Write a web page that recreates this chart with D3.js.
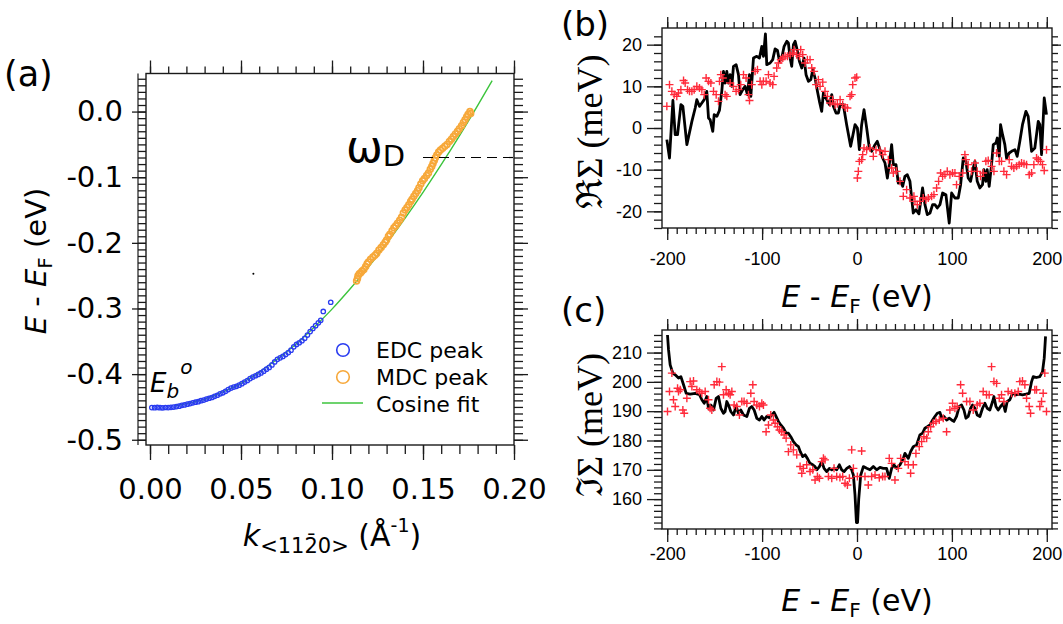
<!DOCTYPE html>
<html>
<head>
<meta charset="utf-8">
<script src="https://cdn.jsdelivr.net/npm/d3@7"></script>
<style>
  body { margin: 0; background: #fff; }
  svg { display: block; }
</style>
</head>
<body>
<div id="chart"></div>
<script>
// ---------- Dados painel (a) : [k (1/Å), E - EF (eV)] ----------
const edcPeak = [
  [0.0010,-0.4510],[0.0025,-0.4512],[0.0040,-0.4508],[0.0055,-0.4511],[0.0070,-0.4513],[0.0085,-0.4509],
  [0.0100,-0.4510],[0.0115,-0.4506],[0.0130,-0.4502],[0.0145,-0.4495],[0.0160,-0.4488],[0.0175,-0.4476],
  [0.0190,-0.4470],[0.0205,-0.4458],[0.0220,-0.4449],[0.0235,-0.4438],[0.0250,-0.4428],[0.0265,-0.4420],
  [0.0280,-0.4405],[0.0295,-0.4396],[0.0310,-0.4380],[0.0325,-0.4368],[0.0340,-0.4356],[0.0355,-0.4338],
  [0.0370,-0.4322],[0.0385,-0.4300],[0.0400,-0.4285],[0.0415,-0.4262],[0.0430,-0.4235],[0.0445,-0.4212],
  [0.0460,-0.4198],[0.0475,-0.4186],[0.0490,-0.4168],[0.0505,-0.4145],[0.0520,-0.4121],[0.0535,-0.4097],
  [0.0550,-0.4068],[0.0565,-0.4045],[0.0580,-0.4025],[0.0595,-0.4004],[0.0610,-0.3982],[0.0625,-0.3955],
  [0.0640,-0.3925],[0.0655,-0.3898],[0.0670,-0.3860],[0.0685,-0.3815],[0.0700,-0.3775],[0.0715,-0.3752],
  [0.0730,-0.3730],[0.0745,-0.3702],[0.0760,-0.3672],[0.0775,-0.3635],[0.0790,-0.3585],[0.0805,-0.3548],
  [0.0820,-0.3522],[0.0835,-0.3492],[0.0850,-0.3455],[0.0865,-0.3405],[0.0880,-0.3352],[0.0895,-0.3305],
  [0.0910,-0.3262],[0.0925,-0.3218],[0.0938,-0.3180],[0.0952,-0.3045],[0.0993,-0.2905]
];
const mdcPeak = [
  [0.1135,-0.2580],[0.1140,-0.2545],[0.1143,-0.2500],[0.1150,-0.2470],[0.1158,-0.2455],[0.1165,-0.2430],
  [0.1175,-0.2405],[0.1185,-0.2360],[0.1193,-0.2320],[0.1200,-0.2290],[0.1212,-0.2250],[0.1225,-0.2215],
  [0.1236,-0.2190],[0.1246,-0.2160],[0.1258,-0.2110],[0.1270,-0.2070],[0.1282,-0.2030],[0.1292,-0.1990],
  [0.1300,-0.1955],[0.1310,-0.1900],[0.1318,-0.1870],[0.1330,-0.1815],[0.1340,-0.1770],[0.1350,-0.1740],
  [0.1360,-0.1700],[0.1372,-0.1655],[0.1382,-0.1610],[0.1392,-0.1545],[0.1402,-0.1500],[0.1412,-0.1460],
  [0.1422,-0.1420],[0.1432,-0.1370],[0.1440,-0.1335],[0.1450,-0.1290],[0.1460,-0.1250],[0.1470,-0.1205],
  [0.1478,-0.1160],[0.1488,-0.1105],[0.1498,-0.1055],[0.1508,-0.1020],[0.1520,-0.0975],[0.1530,-0.0935],
  [0.1540,-0.0880],[0.1548,-0.0835],[0.1555,-0.0790],[0.1562,-0.0745],[0.1568,-0.0705],[0.1576,-0.0660],
  [0.1586,-0.0615],[0.1596,-0.0585],[0.1608,-0.0560],[0.1620,-0.0530],[0.1632,-0.0500],[0.1645,-0.0455],
  [0.1656,-0.0420],[0.1667,-0.0380],[0.1678,-0.0340],[0.1690,-0.0300],[0.1700,-0.0260],[0.1712,-0.0215],
  [0.1722,-0.0165],[0.1731,-0.0125],[0.1740,-0.0080],[0.1748,-0.0040],[0.1758,0.0000],[0.1762,-0.0030]
];
const cosineFit = [
  [0.014,-0.448],[0.020,-0.445],[0.030,-0.438],[0.040,-0.427],[0.050,-0.414],[0.060,-0.397],
  [0.070,-0.377],[0.080,-0.355],[0.090,-0.329],[0.100,-0.301],[0.110,-0.270],[0.120,-0.237],
  [0.130,-0.201],[0.140,-0.163],[0.150,-0.123],[0.160,-0.081],[0.170,-0.037],[0.180,0.009],[0.188,0.047]
];
const strayDot = [[0.0568,-0.247]];
const omegaD = { E: -0.07, kStart: 0.150, kEnd: 0.200 };
const aXTicks = [0.00, 0.05, 0.10, 0.15, 0.20];
const aYTicks = [-0.5, -0.4, -0.3, -0.2, -0.1, 0.0];
const legendA = [
  { label: "EDC peak", type: "circle", color: "#2a3cf0" },
  { label: "MDC peak", type: "circle", color: "#f7a83a" },
  { label: "Cosine fit", type: "line", color: "#3cc43c" }
];

// ---------- Dados painel (b) : [E - EF (meV), Re Sigma (meV)] ----------
const reSigmaLine = [
  [-200.4,-2.8],[-197.6,-7.2],[-194,6.6],[-191.6,-1.6],[-189.1,-1.6],[-185.6,5.6],[-183.5,5.2],[-179.3,-4.0],
  [-174,1.6],[-170.5,4.8],[-168.8,6.8],[-166,5.2],[-163.5,6.0],[-161,6.8],[-158.3,8.8],[-156.5,2.4],
  [-154.8,2.0],[-152,-0.8],[-150.5,3.2],[-147.7,2.8],[-145,4.2],[-142.5,8.8],[-140.7,13.6],[-139,10.8],
  [-137.2,13.6],[-135.4,10.8],[-133.7,12.8],[-131.9,10],[-130.2,14.8],[-127.4,15.2],[-124.9,12.8],[-123.2,8.0],
  [-120.4,9.2],[-117.9,10.0],[-115.4,8.0],[-113.3,12.8],[-111.9,7.6],[-109.1,16.8],[-105.6,17.2],[-102.8,16.8],
  [-100.3,19.6],[-98.6,17.2],[-96.5,22.6],[-95.1,15.2],[-91.6,15.6],[-88.8,16.4],[-86.3,19.0],[-83.8,18.6],
  [-81.7,16.0],[-79.3,16.8],[-76.8,19.6],[-74,20.8],[-72.3,20.4],[-70.5,16.8],[-68.8,14.8],[-67,20.0],
  [-65.2,20.8],[-63.5,19.2],[-60.7,16],[-58.2,14.4],[-55.8,16.8],[-53.7,12.8],[-51.2,11.2],[-48.7,11.6],
  [-46.6,14],[-44.2,12],[-41.7,8.8],[-39.6,6.4],[-37.2,4],[-35.4,8.4],[-33.7,7.6],[-31.9,6.8],
  [-29.1,5.6],[-26.6,8],[-24.9,5.2],[-22.1,3.6],[-19.6,3.6],[-17.8,5.6],[-14.4,5.6],[-10.9,0.8],
  [-6.7,-4.4],[-2.1,0.8],[0.4,0],[2.5,-5.2],[4.9,0.8],[7.4,4.4],[10.2,0],[13,-4.8],
  [15.4,-5.6],[19,-4],[21.4,-3.2],[24.2,-5.2],[27,-7.2],[29.5,-8.4],[32,-12],[34,-8.8],
  [36.5,-4],[38.3,-8.8],[41.1,-8.8],[43.5,-13.2],[46,-12.8],[48.1,-14],[50.5,-11.6],[53,-11.2],
  [55.8,-12.8],[57.6,-16.8],[59.3,-20.4],[62.1,-19.6],[65.3,-20.6],[69.1,-14.4],[71.6,-18.4],[74.1,-20.8],
  [76.9,-20.4],[79.7,-18.4],[82.1,-18.4],[84.6,-19.2],[87.4,-18.4],[90.2,-15.6],[93.7,-16],[97.2,-22.8],
  [99.7,-15.6],[103.2,-16.8],[106.7,-16.8],[109.2,-13.6],[112,-7.2],[114.8,-8],[117.2,-12],[119.7,-12.8],
  [122.5,-9.6],[124.3,-8],[126.7,-12.8],[129.5,-14.4],[132.3,-13.6],[133.7,-10],[135.8,-12.8],[137.2,-10],
  [139.3,-14],[141.8,-8.8],[143.6,-4],[146.4,-3.6],[147.8,-2.4],[149.9,-6.8],[151.3,0.8],[153.4,-1.6],
  [155.8,-4],[157.6,-7.2],[160.4,-6],[162.9,-5.6],[166.4,-5.2],[168.8,-6.8],[171.6,-3.2],[174.4,0.8],
  [178,4],[180.4,2.8],[184,-5.6],[187.4,-4.8],[191,1.6],[192.7,0.8],[194.5,-6.4],[197.3,7.2],[199.7,3.2]
];
const reSigmaPts = [
  [-200.4,5.2],[-197.6,10.4],[-195.1,8.8],[-192.7,8.0],[-189.9,7.6],[-188.1,8.4],[-185.6,9.2],[-182.8,11.4],
  [-181.1,10.8],[-178.6,9.2],[-176.5,8.8],[-174,8.8],[-171.6,9.2],[-168.8,10],[-166,9.6],[-163.5,9.2],
  [-161,8],[-159,12],[-156.5,11.2],[-154,10.8],[-151.2,8.8],[-148.4,8],[-146,6.4],[-144.9,11.2],
  [-143.5,12.8],[-141.4,12],[-139,8],[-137.2,7.6],[-133.7,10.8],[-130.2,10],[-127.4,8.8],[-124.9,9.2],
  [-122.5,10.4],[-119.6,12.8],[-116.9,12],[-114.4,8],[-113.3,6.6],[-110.9,10.4],[-107.4,13.6],[-104.9,14],
  [-102.1,11.2],[-100.3,10.4],[-98.6,11.2],[-95.8,11.2],[-93.3,12.8],[-91.6,10.8],[-88.8,10.4],[-87.4,12.4],
  [-84.6,14.4],[-82.8,15.6],[-80.3,16.4],[-78.2,16.8],[-75.8,17.2],[-73.3,17.2],[-70.5,17.6],[-67.7,18],
  [-66.3,18.8],[-63.5,17.6],[-60.7,17.2],[-59.3,18.8],[-57.2,17.6],[-54.7,15.6],[-52.3,16.4],[-49.5,16.4],
  [-47.7,14.4],[-45.2,13.6],[-43.1,10.4],[-40.7,11.6],[-38.9,10],[-36.1,11],[-33.7,8.8],[-31.2,7.6],
  [-28.4,6],[-25.6,6.8],[-23.1,5.6],[-20.7,5.8],[-17.8,6.8],[-15.1,5.6],[-12.6,5],[-10.1,4.8],
  [-7.3,7.6],[-5.6,8],[-4.5,10.4],[-2.1,12],[-0.3,12.2],
  [0.4,-12],[1.4,-10.4],[2.5,-8],[4.9,-7.6],[6,-6.4],[7.4,-4.8],[10.2,-5.2],[13.7,-4.8],
  [17.2,-6.8],[20,-5.2],[24.2,-5.4],[27,-6.4],[29.5,-5.6],[33,-7.6],[36.5,-9.6],[38.3,-10.8],
  [41.8,-10.4],[45.3,-12.8],[48.8,-16.4],[52.3,-14.8],[55.8,-16.8],[60,-16.4],[61.1,-17.6],[63.5,-18.4],
  [66.3,-17.6],[69.8,-16.8],[72.7,-17.2],[75.1,-16.8],[78.6,-16.4],[81.1,-16],[83.9,-14.4],[86,-12.8],
  [88.1,-10.8],[90.2,-11.6],[92.7,-11.2],[95.1,-10.4],[97.9,-11.2],[100.7,-10.8],[103.2,-10.8],[104.9,-13.6],
  [107.8,-11.6],[111.3,-10.8],[113.7,-6.4],[114.8,-7.6],[117.2,-8.8],[120.7,-10.4],[124.3,-8.4],[126.7,-10.4],
  [130.2,-11.6],[133,-10.8],[135.8,-8],[138.3,-7.8],[141.8,-9.2],[144.3,-10.4],[147.1,-6],[149.9,-8],
  [152.3,-8],[154.8,-10.4],[157.6,-11.2],[160.4,-7.6],[162.9,-9.2],[165.3,-9.6],[168.1,-9.2],[170.9,-8.8],
  [173.4,-8.4],[176,-8.6],[178.7,-8.8],[181.5,-11.2],[184,-10.8],[186.4,-8.8],[189.2,-7.2],[191,-7.6],
  [193.4,-8],[195.5,-8.8],[197.3,-10.2],[199.7,-5.2]
];
const bYTicks = [-20, -10, 0, 10, 20];

// ---------- Dados painel (c) : [E - EF (meV), Im Sigma (meV)] ----------
const imSigmaLine = [
  [-199.7,216.0],[-198.6,210.9],[-196.9,205.8],[-194.1,203],[-191.6,202.4],[-188.1,201.3],[-185.6,201.8],[-182.8,199],
  [-180,196.1],[-175.8,195.8],[-170.5,196.1],[-166,195.6],[-163.5,193.9],[-161,192.7],[-158.3,195],[-156.5,191],
  [-154,192.1],[-151.2,190.4],[-148.4,194.4],[-146,195],[-143.5,191],[-140.7,189.3],[-139,189.9],[-137.2,193.3],
  [-135.4,192.1],[-133,189.9],[-130.2,188.7],[-127.4,191.6],[-124.9,189.3],[-122.5,190.4],[-119.6,188.7],[-116.1,188.2],
  [-113.3,191],[-110.9,191.6],[-108.4,190.4],[-105.6,187.6],[-102.8,187],[-100.3,188.2],[-97.9,187],[-95.1,188.2],
  [-92.3,187.8],[-89.8,188.7],[-87.4,189.6],[-85.3,188.2],[-82.8,186.5],[-80.3,185.3],[-77.5,184.2],[-74.7,182.5],
  [-72.3,182.5],[-69.8,181.3],[-67,179.6],[-64.2,178.5],[-61.7,177.9],[-59.8,176.2],[-57.2,174.5],[-54.7,175.1],
  [-52.3,173.9],[-49.5,172.2],[-46.6,171.7],[-44.2,171.1],[-42.4,170],[-39.6,171.1],[-37.2,172.8],[-34.7,170.5],
  [-31.9,169.4],[-29.1,170.5],[-26.6,170],[-24.2,170.5],[-21.4,170],[-18.6,171.7],[-16.1,170],[-13.6,169.4],
  [-10.8,170.5],[-8,171.1],[-5.6,170],[-3.8,168.2],[-2.1,161.4],[-0.6,152.0],[0.6,152.0],[1.8,159.9],
  [3.9,168.2],[6.7,171.1],[10.2,170.5],[13.7,170],[17.2,171.1],[20.7,170],[24.2,170.8],[27.7,170.5],
  [31.2,170.5],[34,167.1],[36.5,170.5],[38.9,171.7],[41.8,170.5],[45.3,171.7],[48.8,173.9],[50.5,175.6],
  [54.1,173.9],[56.5,176.2],[59.3,177.9],[62.8,178.5],[66.3,181.9],[69.1,182.5],[71.6,184.2],[74.1,184.7],
  [76.9,185.3],[79.7,187],[82.1,188.2],[84.6,189.3],[87.4,189.6],[89.2,187.6],[91.6,188.2],[94.4,187],
  [97.2,187.6],[99.7,187],[102.1,186.5],[104.9,188.2],[107.8,191.6],[110.2,192.1],[112.7,190.4],[114.8,187.6],
  [117.2,188.2],[119.7,191],[121.8,192.1],[124.3,191],[126.7,188.7],[129.5,188.2],[132.3,191],[134.8,192.7],
  [137.2,191],[140,190.4],[142.9,193.3],[144.3,195],[146.4,191.6],[148.8,190.4],[151.3,191.6],[154.1,192.7],
  [156.2,189.9],[158.3,193.3],[161.1,193.9],[163.9,196.1],[167.4,195.6],[170.9,195.8],[174.4,195.6],[178,195.8],
  [181.5,196.1],[184,200.1],[185.7,201.8],[189.2,201.5],[192.7,201.8],[195.5,203.5],[197.3,208.1],[198.7,215.5]
];
const imSigmaPts = [
  [-199.7,189.9],[-197.6,196.7],[-195.1,203],[-193.4,193.9],[-191.6,191.6],[-189.1,197.8],[-188.1,196.7],[-186.3,197.3],
  [-183.5,190.4],[-182.1,189.3],[-179.3,194.4],[-175.8,200.1],[-174,198.4],[-172.3,200.3],[-168.8,197.3],[-166,196.7],
  [-163.5,196.1],[-160,196.7],[-156.5,193.9],[-154.8,191],[-153,190.4],[-150.5,199],[-147.7,200.1],[-145,199.9],
  [-142.5,205.2],[-140.7,195.6],[-137.9,197.3],[-135.4,196.1],[-133.7,195.6],[-131.9,196.7],[-129.5,192.1],[-126.7,191.6],
  [-123.9,188.7],[-121.4,193.3],[-119,193.3],[-116.1,192.7],[-111.9,196.1],[-109.8,199],[-108.4,193.3],[-105.6,192.1],
  [-102.8,191.6],[-100.3,192.7],[-98.6,192.1],[-95.8,183],[-93.3,185.3],[-90.9,188.7],[-88.1,187],[-86.3,185.9],
  [-83.8,184.7],[-81.7,183.6],[-79.3,183],[-76.8,181.9],[-74.7,180.8],[-72.3,176.2],[-69.8,178.5],[-67,176.8],
  [-63.5,175.1],[-60,171.1],[-58.2,168.8],[-56.5,170.5],[-53,171.7],[-49.5,169.4],[-46.6,170],[-44.2,166.5],
  [-41.7,167.7],[-39.6,167.1],[-37.2,172.8],[-35.4,173.9],[-33.7,173.4],[-30.1,167.7],[-26.6,167.1],[-24.2,170.5],
  [-21.4,167.7],[-18,167.4],[-15.1,167.7],[-12.6,165.4],[-10.1,164.8],[-8,167.1],[-5.6,176.8],[-3.8,170.5],
  [0.4,167.7],[4.9,176.4],[8.4,167.7],[11.9,164.8],[15.4,167.7],[19,168.2],[23.5,167.3],[27,167.7],
  [29.5,167.7],[34,173.9],[36.5,172.2],[40,166.5],[43.5,170.5],[46,173.9],[50.5,172.8],[54.1,171.7],
  [56.5,168.8],[59.3,171.7],[62.1,175.6],[65.6,177.9],[68.1,179.6],[70.5,181.3],[73.4,180.8],[75.1,183],
  [77.6,184.7],[80.4,185.9],[83.2,186.5],[86.7,187],[90.9,187.6],[94.4,183],[97.9,190.4],[100.7,192.7],
  [103.2,191],[105.6,191.6],[109.2,199],[111.3,196.1],[115.5,193.3],[119,193.3],[122.5,190.4],[126.7,192.1],
  [129.5,192.7],[133,196.7],[136.5,195.6],[139.3,195.6],[141.8,205.2],[144.3,200.1],[147.1,199.5],[149.9,194.4],
  [152.3,195.6],[154.8,193.3],[159.3,196.7],[162.9,196.1],[166.4,196.1],[169.9,196.7],[171.6,200.1],[174.4,200.3],
  [176.9,199],[178.7,194.4],[181.5,191.6],[182.9,189.3],[187.4,197.3],[189.2,197.3],[192.7,191.6],[194.5,193.3],
  [196.2,196.1],[197.9,203],[199.7,189.9]
];
const cYTicks = [160, 170, 180, 190, 200, 210];
const eXTicks = [-200, -100, 0, 100, 200];

// ---------- Configurações ----------
const W = 1063, H = 624;
const ink = "#1a1a1a";
const sans = "'DejaVu Sans', Verdana, sans-serif";
const arial = "'Liberation Sans', Arial, sans-serif";
const serif = "'Liberation Serif', 'DejaVu Serif', serif";
const redPlus = "#ff2a3a";

const svg = d3.select("#chart").append("svg")
  .attr("width", W).attr("height", H)
  .style("font-family", sans);

// Eixo genérico: só traços, ou traços + rótulos
function axis(g, gen, tr, vals, size, fmt, pad, font, fs) {
  const a = g.append("g").attr("transform", tr)
    .call(gen.tickValues(vals).tickSize(size).tickSizeOuter(0)
      .tickPadding(pad || 3).tickFormat(fmt || ""));
  a.select(".domain").remove();
  a.selectAll("line").attr("stroke", ink).attr("stroke-width", 1.3);
  if (fmt) a.attr("font-family", font).attr("font-size", fs).selectAll("text").attr("fill", "#000");
  return a;
}

function box(g, x, y) {
  g.append("rect")
    .attr("x", x.range()[0]).attr("y", y.range()[1])
    .attr("width", x.range()[1] - x.range()[0])
    .attr("height", y.range()[0] - y.range()[1])
    .attr("fill", "none").attr("stroke", ink).attr("stroke-width", 1.4);
}

// titulo "E - E_F (eV)"
function energyTitle(t, fs) {
  t.append("tspan").attr("font-style", "italic").text("E");
  t.append("tspan").text(" - ");
  t.append("tspan").attr("font-style", "italic").text("E");
  t.append("tspan").attr("font-size", Math.round(fs * 0.68)).attr("dy", 6).text("F");
  t.append("tspan").attr("dy", -6).text(" (eV)");
}

// ================= Painel (a) =================
function drawPanelA() {
  const g = svg.append("g");
  const x = d3.scaleLinear().domain([-0.0022, 0.20]).range([146, 514]);
  const y = d3.scaleLinear().domain([-0.508, 0.058]).range([445, 73.5]);
  const xMinor = d3.range(0, 21).map(i => i / 100);
  const yMinor = d3.range(-50, 6).map(i => i / 100);
  const fx = d => d.toFixed(2), fy = d => d.toFixed(1);

  axis(g, d3.axisBottom(x), `translate(0,${y.range()[0]})`, xMinor, 9);
  axis(g, d3.axisBottom(x), `translate(0,${y.range()[0]})`, aXTicks, 15, fx, 18, sans, 29);
  axis(g, d3.axisTop(x), `translate(0,${y.range()[1]})`, xMinor, 7);
  axis(g, d3.axisTop(x), `translate(0,${y.range()[1]})`, aXTicks, 13);
  axis(g, d3.axisLeft(y), `translate(${x.range()[0]},0)`, yMinor, 8);
  axis(g, d3.axisLeft(y), `translate(${x.range()[0]},0)`, aYTicks, 14, fy, 9, sans, 29);
  axis(g, d3.axisRight(y), `translate(${x.range()[1]},0)`, yMinor, 9);
  axis(g, d3.axisRight(y), `translate(${x.range()[1]},0)`, aYTicks, 14);
  // régua à esquerda
  g.append("line").attr("x1", x.range()[0] - 8).attr("x2", x.range()[0] - 8)
    .attr("y1", y.range()[1]).attr("y2", y.range()[0]).attr("stroke", ink).attr("stroke-width", 1.2);
  box(g, x, y);

  // Curva de ajuste
  g.append("path").datum(cosineFit)
    .attr("fill", "none").attr("stroke", legendA[2].color).attr("stroke-width", 1.4)
    .attr("d", d3.line().curve(d3.curveMonotoneX).x(d => x(d[0])).y(d => y(d[1])));

  g.selectAll(".edc").data(edcPeak).enter().append("circle")
    .attr("cx", d => x(d[0])).attr("cy", d => y(d[1])).attr("r", 2.2)
    .attr("fill", "none").attr("stroke", legendA[0].color).attr("stroke-width", 1.3);

  g.selectAll(".mdc").data(mdcPeak).enter().append("circle")
    .attr("cx", d => x(d[0])).attr("cy", d => y(d[1])).attr("r", 2.9)
    .attr("fill", "none").attr("stroke", legendA[1].color).attr("stroke-width", 1.7);

  g.selectAll(".stray").data(strayDot).enter().append("circle")
    .attr("cx", d => x(d[0])).attr("cy", d => y(d[1])).attr("r", 1).attr("fill", "#000");

  // omega_D
  g.append("line")
    .attr("x1", x(omegaD.kStart)).attr("x2", x(omegaD.kEnd))
    .attr("y1", y(omegaD.E)).attr("y2", y(omegaD.E))
    .attr("stroke", "#000").attr("stroke-width", 1.2).attr("stroke-dasharray", "10,6");
  const om = g.append("text").attr("x", 346).attr("y", 162).attr("fill", "#000");
  om.append("tspan").attr("font-size", 44).text("ω");
  om.append("tspan").attr("font-size", 29).attr("dy", 4).text("D");

  // E_b^o
  const eb = g.append("text").attr("x", 150).attr("y", 392).attr("fill", "#000").attr("font-style", "italic");
  eb.append("tspan").attr("font-size", 26).text("E");
  eb.append("tspan").attr("font-size", 20).attr("dy", 6).text("b");
  eb.append("tspan").attr("font-size", 20).attr("dx", 1).attr("dy", -24).text("o");

  // Legenda
  const lg = g.append("g");
  legendA.forEach((d, i) => {
    const cy = 350 + i * 27;
    if (d.type === "circle") {
      lg.append("circle").attr("cx", 343).attr("cy", cy).attr("r", 6.3)
        .attr("fill", "none").attr("stroke", d.color).attr("stroke-width", 1.6);
    } else {
      lg.append("line").attr("x1", 322).attr("x2", 363).attr("y1", cy - 1).attr("y2", cy - 1)
        .attr("stroke", d.color).attr("stroke-width", 1.6);
    }
    lg.append("text").attr("x", 376).attr("y", cy + 8).attr("font-size", 22).attr("fill", "#000").text(d.label);
  });

  // Títulos
  const xt = g.append("text").attr("x", 332).attr("y", 546).attr("text-anchor", "middle")
    .attr("font-size", 30).attr("fill", "#000");
  xt.append("tspan").attr("font-style", "italic").text("k");
  xt.append("tspan").attr("font-size", 21).attr("dy", 7).text("<112\u03040>");
  xt.append("tspan").attr("dy", -7).text(" (Å");
  xt.append("tspan").attr("font-size", 19).attr("dy", -14).text("-1");
  xt.append("tspan").attr("dy", 14).text(")");

  const yt = g.append("text").attr("transform", "translate(46,261) rotate(-90)")
    .attr("text-anchor", "middle").attr("font-size", 29).attr("fill", "#000");
  energyTitle(yt, 29);

  g.append("text").attr("x", 4).attr("y", 86).attr("font-size", 35).attr("fill", "#000").text("(a)");
}

// ================= Painéis (b) e (c) =================
function drawSigmaPanel(cfg) {
  const g = svg.append("g");
  const x = d3.scaleLinear().domain([-205.5, 205.5]).range([662, 1052]);
  const y = d3.scaleLinear().domain(cfg.yDomain).range([cfg.bottom, cfg.top]);
  const xMinor = d3.range(-200, 201, 10);
  const yMinor = d3.range(Math.ceil(cfg.yDomain[0] / 2) * 2, cfg.yDomain[1], 2);
  const f = d => String(d);

  axis(g, d3.axisBottom(x), `translate(0,${cfg.bottom})`, xMinor, 6);
  axis(g, d3.axisBottom(x), `translate(0,${cfg.bottom})`, eXTicks, cfg.bTick, f, cfg.bPad, arial, 18);
  axis(g, d3.axisTop(x), `translate(0,${cfg.top})`, xMinor, 6);
  axis(g, d3.axisTop(x), `translate(0,${cfg.top})`, eXTicks, 11);
  axis(g, d3.axisLeft(y), `translate(662,0)`, yMinor, 8);
  axis(g, d3.axisLeft(y), `translate(662,0)`, cfg.yTicks, 15, f, 5, arial, 18);
  axis(g, d3.axisRight(y), `translate(1052,0)`, yMinor, 6);
  axis(g, d3.axisRight(y), `translate(1052,0)`, cfg.yTicks, 9);
  box(g, x, y);

  g.append("path").datum(cfg.line)
    .attr("fill", "none").attr("stroke", "#000").attr("stroke-width", 2.8)
    .attr("stroke-linejoin", "round")
    .attr("d", d3.line().x(d => x(d[0])).y(d => y(d[1])));

  g.selectAll(".pt").data(cfg.pts).enter().append("path")
    .attr("transform", d => `translate(${x(d[0])},${y(d[1])})`)
    .attr("d", "M-4,0H4M0,-4V4")
    .attr("stroke", redPlus).attr("stroke-width", 1.4);

  const xt = g.append("text").attr("x", 857).attr("y", cfg.xTitleY).attr("text-anchor", "middle")
    .attr("font-size", 30).attr("fill", "#000");
  energyTitle(xt, 30);

  g.append("text").attr("transform", `translate(602,${cfg.yTitleY}) rotate(-90)`)
    .attr("text-anchor", "middle").attr("font-family", serif).attr("font-size", 36).attr("fill", "#000")
    .text(cfg.yTitle);

  g.append("text").attr("x", 561).attr("y", cfg.labelY).attr("font-size", 34).attr("fill", "#000").text(cfg.label);
}

drawPanelA();
drawSigmaPanel({
  label: "(b)", labelY: 36, top: 28, bottom: 228, yDomain: [-24, 24], yTicks: bYTicks,
  line: reSigmaLine, pts: reSigmaPts, bTick: 12, bPad: 12, xTitleY: 307, yTitleY: 132,
  yTitle: "\u211CΣ (meV)"
});
drawSigmaPanel({
  label: "(c)", labelY: 322, top: 330, bottom: 529, yDomain: [149.8, 217.7], yTicks: cYTicks,
  line: imSigmaLine, pts: imSigmaPts, bTick: 13, bPad: 5, xTitleY: 611, yTitleY: 425,
  yTitle: "\u2111Σ (meV)"
});
</script>
</body>
</html>
